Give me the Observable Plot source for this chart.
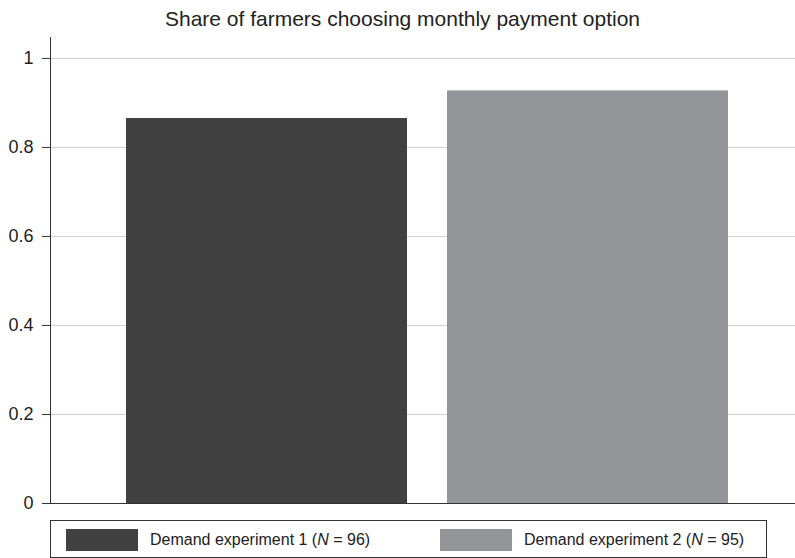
<!DOCTYPE html>
<html>
<head>
<meta charset="utf-8">
<script src="https://cdn.jsdelivr.net/npm/d3@7"></script>
<script src="https://cdn.jsdelivr.net/npm/@observablehq/plot@0.6"></script>
<style>
  html, body { margin: 0; padding: 0; background: #fff; }
  body { width: 795px; height: 558px; overflow: hidden; position: relative;
         font-family: "Liberation Sans", Arial, Helvetica, sans-serif; color: #222; }
  #title { position: absolute; left: 5px; top: 0; width: 795px; height: 30px; text-align: center;
           font-size: 21px; line-height: 21px; padding-top: 8px; box-sizing: border-box; }
  #chart { position: absolute; left: 0; top: 30px; }
  #legend { position: absolute; left: 50px; top: 520px; width: 717px; height: 38px;
            border: 1px solid #333; box-sizing: border-box; font-size: 16px; }
  .item { position: absolute; top: 8px; display: flex; align-items: center; }
  .sw { width: 72px; height: 22px; margin-right: 12px; }
</style>
</head>
<body>
<div id="title"></div>
<div id="chart"></div>
<div id="legend"></div>
<script>
const titleText = "Share of farmers choosing monthly payment option";
const categories = ["Demand experiment 1", "Demand experiment 2"];
const sampleSizes = [96, 95];
const shares = [0.865, 0.927];
const colors = ["#414141", "#939598"];
const yTicks = [0, 0.2, 0.4, 0.6, 0.8, 1];
const gridTicks = [0.2, 0.4, 0.6, 0.8, 1];

const data = categories.map((c, i) => ({category: c, share: shares[i]}));

document.getElementById("title").textContent = titleText;

const chart = Plot.plot({
  width: 795,
  height: 490,
  marginTop: 7,
  marginLeft: 50,
  marginRight: 0,
  marginBottom: 17,
  style: {fontSize: "18px", fontFamily: "'Liberation Sans', Arial, Helvetica, sans-serif", color: "#222", background: "transparent"},
  x: {domain: categories, range: [50, 804], paddingInner: 0.126, paddingOuter: 0.2356, axis: null},
  y: {domain: [0, 1.047]},
  color: {domain: categories, range: colors},
  marks: [
    Plot.ruleY(gridTicks, {stroke: "#d0d0d0", strokeWidth: 1}),
    Plot.barY(data, {x: "category", y: "share", fill: "category"}),
    Plot.ruleY([0], {stroke: "#333", strokeWidth: 1}),
    Plot.frame({anchor: "left", stroke: "#333"}),
    Plot.axisY(yTicks, {tickSize: 8, tickPadding: 9, tickFormat: d => String(d), stroke: "#333", fill: "#222", label: null})
  ]
});
document.getElementById("chart").appendChild(chart);

const legend = document.getElementById("legend");
const lefts = [15, 389];
categories.forEach((c, i) => {
  const item = document.createElement("div");
  item.className = "item";
  item.style.left = lefts[i] + "px";
  const sw = document.createElement("div");
  sw.className = "sw";
  sw.style.background = colors[i];
  const label = document.createElement("span");
  label.innerHTML = c + " (<i>N</i> = " + sampleSizes[i] + ")";
  item.appendChild(sw);
  item.appendChild(label);
  legend.appendChild(item);
});
</script>
</body>
</html>
